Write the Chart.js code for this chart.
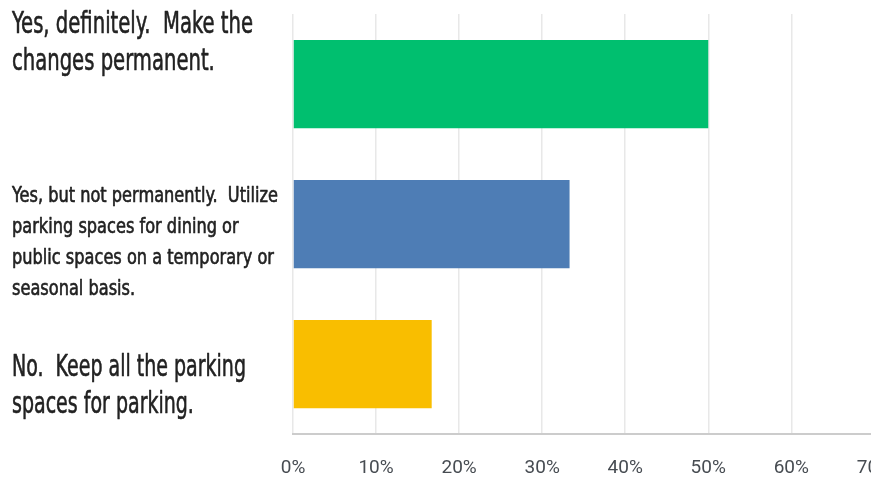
<!DOCTYPE html>
<html>
<head>
<meta charset="utf-8">
<title>Parking spaces survey</title>
<script src="https://cdn.jsdelivr.net/npm/chart.js@4.4.1/dist/chart.umd.min.js"></script>
<style>
  html, body { margin: 0; padding: 0; background: #fff; overflow: hidden; }
  #wrap { width: 871px; height: 477px; overflow: hidden; }
</style>
</head>
<body>
<div id="wrap">
  <canvas id="surveyBarChart" width="915" height="503"></canvas>
</div>
<script>
// answers, each one split into the lines it is shown on
var answers = [
  ['Yes, definitely.  Make the', 'changes permanent.'],
  ['Yes, but not permanently.  Utilize', 'parking spaces for dining or', 'public spaces on a temporary or', 'seasonal basis.'],
  ['No.  Keep all the parking', 'spaces for parking.']
];
var shares = [50, 33.3, 16.7];          // percent of responses
var barColors = ['#00bf6f', '#4e7db5', '#f9be00'];
var axisTicks = [0, 10, 20, 30, 40, 50, 60, 70];

// how each answer label is set: font size, line step, first baseline vs bar centre, first line width
var labelStyle = [
  { size: 31, step: 37, first: -51, width: 241 },
  { size: 21, step: 31, first: -22, width: 266 },
  { size: 31, step: 37, first: 12, width: 234 }
];
var labelFont = "'Liberation Sans Narrow', 'DejaVu Sans Condensed', 'Liberation Sans', sans-serif";

// draws the condensed answer text to the left of each bar
var answerLabels = {
  id: 'answerLabels',
  afterDraw: function(chart) {
    var ctx = chart.ctx;
    var yScale = chart.scales.y;
    ctx.save();
    ctx.fillStyle = '#222222';
    ctx.strokeStyle = '#222222';
    ctx.lineWidth = 0.6;
    ctx.lineJoin = 'round';
    ctx.textAlign = 'left';
    ctx.textBaseline = 'alphabetic';
    for (var i = 0; i < answers.length; i++) {
      var st = labelStyle[i];
      ctx.font = st.size + 'px ' + labelFont;
      var sx = st.width / ctx.measureText(answers[i][0]).width;
      var base = yScale.getPixelForTick(i) + st.first;
      for (var j = 0; j < answers[i].length; j++) {
        ctx.save();
        ctx.translate(12, base + j * st.step);
        ctx.scale(sx, 1);
        ctx.fillText(answers[i][j], 0, 0);
        ctx.strokeText(answers[i][j], 0, 0);
        ctx.restore();
      }
    }
    ctx.restore();
  }
};

const surveyBar = document.getElementById('surveyBarChart');

let surveyBarChart = new Chart(surveyBar, {
  type: 'bar',
  data: {
    labels: answers,
    datasets: [{
      data: shares,
      backgroundColor: barColors,
      borderWidth: 0,
      barPercentage: 0.63,
      categoryPercentage: 1
    }]
  },
  options: {
    indexAxis: 'y',
    responsive: false,
    animation: false,
    layout: { padding: { top: 14, right: 0, bottom: 0, left: 0 } },
    plugins: {
      legend: { display: false },
      tooltip: { enabled: false }
    },
    scales: {
      x: {
        min: 0,
        max: 70,
        afterBuildTicks: function(scale) {
          scale.ticks = axisTicks.map(function(v) { return { value: v }; });
        },
        ticks: {
          callback: function(v) { return v + '%'; },
          color: '#474c52',
          font: { family: 'Roboto, sans-serif', size: 19 },
          padding: 23,
          maxRotation: 0
        },
        grid: { color: '#e8e8e8', lineWidth: 1.5, drawTicks: false },
        border: { color: '#cccccc', width: 2 }
      },
      y: {
        grid: { display: false },
        border: { display: false },
        ticks: { display: false },
        afterFit: function(scale) { scale.width = 293; }
      }
    }
  },
  plugins: [answerLabels]
});
</script>
</body>
</html>
